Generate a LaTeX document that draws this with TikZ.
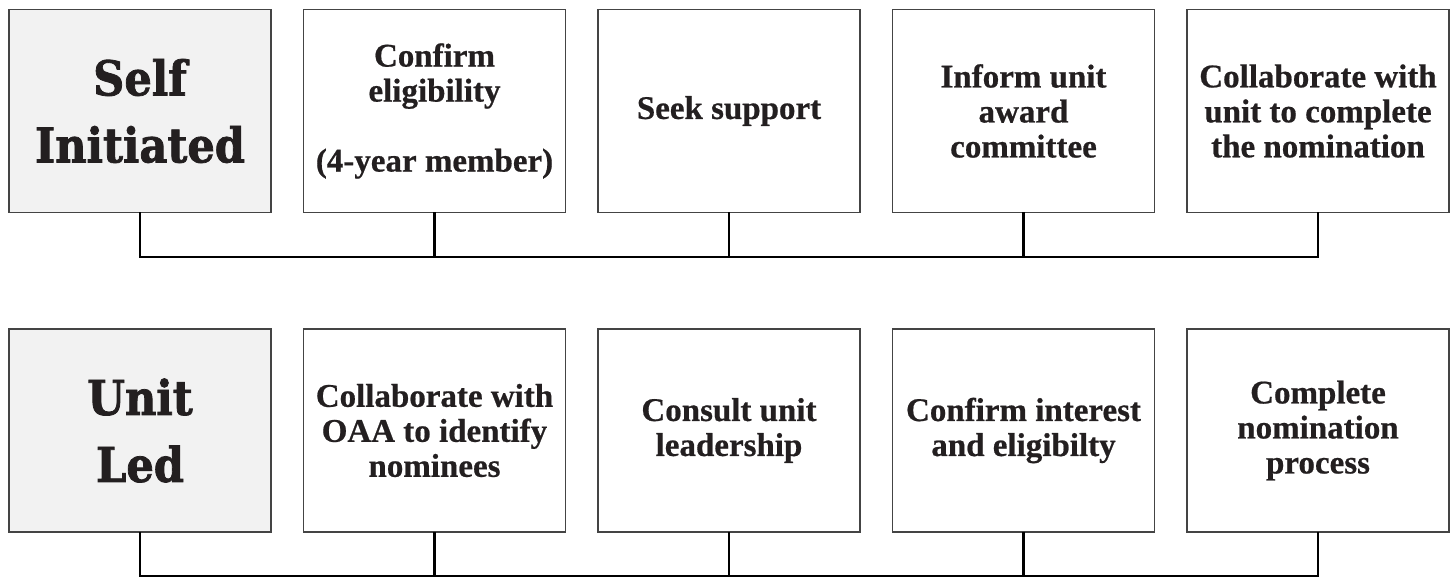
\documentclass[tikz,border=0pt]{standalone}
\usepackage{fontspec}
\setmainfont{Liberation Serif}[BoldFeatures={FakeBold=0.6}]
\newfontfamily\headfont{DejaVu Serif Condensed}[BoldFeatures={FakeBold=1.6}]
\usetikzlibrary{positioning}
\definecolor{boxline}{HTML}{444444}
\definecolor{headfill}{HTML}{F2F2F2}
\definecolor{ink}{HTML}{231F20}

\begin{document}
\begin{tikzpicture}[x=1pt,y=-1pt,
    stepbox/.style={draw=boxline,line width=1.2pt,outer sep=0pt,inner sep=0pt,
      minimum width=262pt,minimum height=203pt,align=center,text=ink,
      font=\fontsize{33}{35}\selectfont\bfseries},
    headbox/.style={stepbox,fill=headfill,font=\headfont\fontsize{48}{67}\selectfont\bfseries},
    bus/.style={line width=2.1pt,black}]
    \useasboundingbox (0,0) rectangle (1450,577);

    % self initiated
    \node[headbox] (s1) at (140,111) {Self\\Initiated};
    \node[stepbox,right=32.5pt of s1] (s2) {Confirm\\eligibility\\[35pt](4-year member)};
    \node[stepbox,right=32.5pt of s2] (s3) {Seek support};
    \node[stepbox,right=32.5pt of s3] (s4) {Inform unit\\award\\committee};
    \node[stepbox,right=32.5pt of s4] (s5) {Collaborate with\\unit to complete\\the nomination};
    \coordinate (sbus) at (0,257);

    % unit led
    \node[headbox] (u1) at (140,430.5) {Unit\\Led};
    \node[stepbox,right=32.5pt of u1] (u2) {Collaborate with\\OAA to identify\\nominees};
    \node[stepbox,right=32.5pt of u2] (u3) {Consult unit\\leadership};
    \node[stepbox,right=32.5pt of u3] (u4) {Confirm interest\\and eligibilty};
    \node[stepbox,right=32.5pt of u4] (u5) {Complete\\nomination\\process};
    \coordinate (ubus) at (0,576);

    \foreach\r/\b in {s/sbus,u/ubus} {
      \draw[bus] (\r1.south) |- (\r5.south |- \b) -- (\r5.south);
      \foreach\i in {2,3,4}
        \draw[bus] (\r\i.south) -- (\r\i.south |- \b);
    }
\end{tikzpicture}
\end{document}
